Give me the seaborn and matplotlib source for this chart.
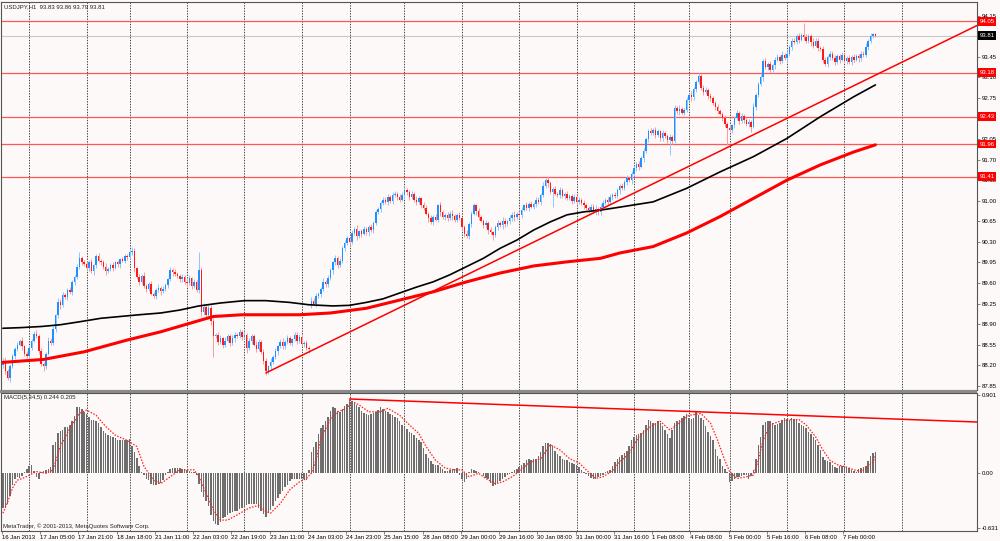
import numpy as np
import pandas as pd
import matplotlib
matplotlib.use("Agg")
import matplotlib.pyplot as plt
import matplotlib.transforms as mtransforms
from matplotlib.patches import Rectangle
import seaborn as sns

# ---- price data (H1 bars) ----
first_open = 88.20
closes = [
    88.28, 88.10, 87.98, 88.18, 88.35, 88.48, 88.55, 88.62, 88.52, 88.40,
    88.36, 88.50, 88.62, 88.74, 88.70, 88.45, 88.22, 88.18, 88.40, 88.62,
    88.58, 88.82, 89.05, 89.28, 89.22, 89.40, 89.36, 89.48, 89.44, 89.62,
    89.70, 89.88, 90.02, 89.96, 89.92, 89.86, 89.95, 89.80, 89.90, 90.06,
    89.98, 89.95, 89.88, 89.80, 89.84, 89.90, 89.86, 89.95, 89.92, 90.00,
    89.98, 90.06, 90.04, 90.12, 90.15, 89.85, 89.70, 89.62, 89.72, 89.55,
    89.50, 89.58, 89.42, 89.38, 89.48, 89.52, 89.46, 89.50, 89.56, 89.66,
    89.82, 89.78, 89.76, 89.72, 89.66, 89.70, 89.62, 89.60, 89.68, 89.55,
    89.62, 89.48, 89.82, 89.10, 89.20, 89.05, 89.18, 88.95, 88.70, 88.72,
    88.60, 88.66, 88.55, 88.62, 88.70, 88.58, 88.66, 88.72, 88.70, 88.76,
    88.68, 88.72, 88.50, 88.62, 88.70, 88.55, 88.48, 88.60, 88.42, 88.28,
    88.10, 88.18, 88.26, 88.34, 88.44, 88.52, 88.60, 88.52, 88.60, 88.66,
    88.58, 88.64, 88.72, 88.62, 88.68, 88.56, 88.58, 88.50, 88.47, 89.30,
    89.25, 89.38, 89.42, 89.50, 89.62, 89.58, 89.68, 89.82, 89.95, 90.02,
    89.90, 89.98, 90.20, 90.28, 90.36, 90.30, 90.45, 90.52, 90.40, 90.48,
    90.44, 90.52, 90.46, 90.55, 90.50, 90.62, 90.80, 90.86, 90.96, 91.02,
    90.98, 91.06, 91.00, 91.10, 91.12, 91.06, 91.02, 91.10, 91.18, 91.14,
    91.06, 91.12, 91.02, 90.98, 91.04, 90.92, 90.88, 90.78, 90.70, 90.64,
    90.72, 90.68, 90.92, 90.80, 90.72, 90.76, 90.70, 90.78, 90.74, 90.68,
    90.75, 90.70, 90.55, 90.44, 90.40, 90.60, 90.78, 90.92, 90.82, 90.72,
    90.66, 90.58, 90.62, 90.50, 90.46, 90.42, 90.55, 90.62, 90.58, 90.66,
    90.60, 90.65, 90.70, 90.76, 90.72, 90.78, 90.75, 90.85, 90.92, 90.88,
    90.94, 90.90, 90.95, 91.02, 90.98, 91.10, 91.25, 91.36, 91.30, 91.15,
    91.20, 91.12, 91.10, 91.18, 91.08, 91.12, 91.05, 91.08, 91.00, 91.06,
    90.98, 91.02, 90.96, 90.92, 90.88, 90.84, 90.90, 90.82, 90.86, 90.80,
    90.90, 90.96, 91.02, 90.98, 91.06, 91.10, 91.08, 91.18, 91.25, 91.22,
    91.32, 91.38, 91.35, 91.45, 91.55, 91.62, 91.58, 91.72, 91.85, 92.05,
    92.18, 92.15, 92.20, 92.12, 92.18, 92.06, 92.15, 92.10, 92.04, 92.08,
    92.02, 92.58, 92.52, 92.56, 92.50, 92.55, 92.72, 92.80, 92.76, 92.90,
    93.02, 93.12, 92.92, 92.85, 92.88, 92.78, 92.74, 92.66, 92.60, 92.52,
    92.48, 92.40, 92.30, 92.24, 92.20, 92.28, 92.40, 92.50, 92.36, 92.44,
    92.38, 92.30, 92.34, 92.26, 92.60, 92.80, 92.98, 93.10, 93.38, 93.28,
    93.32, 93.22, 93.30, 93.40, 93.45, 93.38, 93.48, 93.42, 93.50, 93.62,
    93.72, 93.70, 93.80, 93.74, 93.82, 93.78, 93.72, 93.80, 93.70, 93.64,
    93.72, 93.60, 93.58, 93.40, 93.32, 93.45, 93.50, 93.42, 93.36, 93.46,
    93.40, 93.48, 93.38, 93.42, 93.36, 93.44, 93.40, 93.46, 93.42, 93.50,
    93.48, 93.62, 93.72, 93.80, 93.83, 93.81,
]
gap_bars = [129]
gap_opens = [89.22]

# wick length beyond the body, in pips (0.01)
wick_hi = [
    4, 6, 3, 5, 4, 3, 5, 2, 6, 3, 4, 5, 3, 4, 6, 3, 5, 4, 3, 6,
    4, 5, 3, 6, 4, 5, 3, 4, 6, 3, 4, 5, 11, 4, 3, 5, 4, 6, 3, 4,
    5, 3, 4, 6, 3, 4, 5, 3, 4, 3, 5, 4, 3, 5, 6, 4, 3, 5, 4, 6,
    3, 4, 5, 3, 4, 6, 3, 5, 4, 3, 5, 4, 6, 3, 4, 5, 3, 4, 5, 3,
    4, 3, 31, 5, 6, 4, 5, 4, 6, 3, 4, 5, 3, 6, 4, 3, 5, 4, 3, 5,
    4, 6, 3, 5, 4, 3, 6, 4, 3, 5, 4, 3, 6, 4, 5, 3, 4, 6, 3, 5,
    4, 3, 5, 4, 6, 3, 4, 5, 3, 6, 4, 5, 3, 4, 6, 3, 5, 4, 3, 6,
    4, 5, 3, 6, 4, 3, 5, 4, 6, 3, 4, 5, 3, 4, 6, 3, 5, 4, 3, 5,
    4, 6, 3, 5, 4, 3, 6, 4, 5, 3, 4, 5, 3, 6, 4, 3, 5, 4, 3, 6,
    4, 5, 3, 6, 4, 3, 5, 4, 6, 3, 4, 5, 3, 4, 6, 3, 5, 4, 3, 5,
    4, 3, 5, 4, 6, 3, 4, 5, 3, 6, 4, 3, 5, 4, 6, 3, 4, 5, 3, 5,
    4, 6, 3, 5, 4, 3, 6, 2, 5, 3, 4, 5, 3, 6, 4, 3, 5, 4, 3, 6,
    4, 5, 3, 6, 4, 3, 5, 4, 6, 3, 4, 5, 3, 4, 6, 3, 5, 4, 3, 5,
    4, 6, 3, 5, 4, 3, 6, 4, 5, 3, 4, 5, 3, 6, 4, 3, 5, 4, 3, 6,
    4, 5, 3, 6, 4, 3, 5, 4, 6, 3, 4, 5, 3, 4, 6, 3, 5, 4, 3, 5,
    4, 3, 5, 4, 6, 3, 4, 5, 3, 6, 4, 3, 5, 4, 6, 3, 4, 5, 3, 5,
    4, 6, 3, 5, 4, 3, 6, 4, 5, 3, 4, 5, 3, 6, 4, 20, 5, 4, 3, 6,
    4, 5, 3, 6, 4, 3, 5, 4, 6, 3, 4, 5, 3, 4, 6, 3, 5, 4, 3, 5,
    4, 6, 3, 5, 3, 3,
]
wick_lo = [
    5, 4, 3, 6, 3, 5, 4, 3, 6, 4, 3, 5, 4, 3, 4, 5, 3, 8, 4, 3,
    4, 3, 5, 4, 6, 3, 4, 5, 3, 4, 6, 3, 4, 5, 3, 4, 5, 3, 6, 4,
    3, 5, 4, 6, 3, 4, 5, 3, 4, 6, 3, 4, 5, 3, 4, 6, 3, 5, 4, 3,
    5, 4, 3, 3, 5, 4, 6, 3, 4, 5, 3, 6, 4, 3, 5, 4, 3, 6, 4, 5,
    3, 4, 5, 6, 4, 5, 3, 6, 36, 4, 5, 3, 6, 4, 3, 5, 4, 6, 3, 4,
    5, 3, 9, 4, 6, 3, 5, 4, 3, 6, 6, 4, 5, 3, 4, 6, 3, 5, 4, 3,
    4, 5, 3, 6, 4, 3, 5, 4, 6, 4, 3, 5, 4, 6, 3, 4, 5, 3, 6, 4,
    5, 3, 4, 6, 3, 5, 4, 3, 6, 4, 5, 3, 4, 6, 3, 5, 4, 3, 6, 4,
    3, 5, 4, 6, 3, 4, 5, 3, 6, 4, 5, 3, 4, 6, 3, 5, 4, 3, 6, 4,
    5, 3, 4, 6, 3, 5, 4, 3, 6, 4, 5, 3, 4, 6, 3, 5, 4, 3, 6, 4,
    3, 5, 4, 6, 3, 9, 4, 5, 3, 6, 4, 3, 5, 4, 6, 3, 4, 5, 3, 4,
    5, 3, 4, 6, 3, 5, 4, 3, 6, 4, 25, 3, 4, 6, 3, 5, 4, 3, 6, 4,
    5, 3, 4, 6, 3, 5, 4, 3, 6, 4, 5, 3, 4, 6, 3, 5, 4, 3, 6, 4,
    3, 5, 4, 6, 3, 4, 5, 3, 6, 4, 5, 3, 4, 6, 3, 5, 4, 4, 6, 26,
    5, 3, 4, 6, 3, 5, 4, 3, 6, 4, 5, 3, 4, 6, 3, 5, 4, 3, 6, 4,
    3, 5, 4, 29, 3, 4, 5, 3, 6, 4, 5, 3, 4, 9, 3, 5, 4, 3, 6, 4,
    5, 3, 4, 6, 3, 5, 4, 3, 6, 4, 5, 3, 4, 6, 3, 5, 4, 3, 6, 4,
    3, 5, 4, 6, 3, 4, 5, 3, 6, 4, 5, 3, 4, 6, 3, 5, 4, 3, 6, 4,
    4, 3, 5, 3, 3, 2,
]

# moving averages (sampled along the curves)
ma_black_bars = [0, 7, 16, 24, 32, 41, 49, 57, 66, 74, 82, 91, 101, 110, 120, 128, 138,
                 145, 152, 159, 166, 173, 180, 187, 194, 201, 208, 215, 222, 229, 236,
                 243, 250, 258, 272, 286, 300, 314, 328, 342, 356, 365]
ma_black_vals = [88.83, 88.84, 88.86, 88.89, 88.94, 89.00, 89.03, 89.06, 89.09, 89.14,
                 89.21, 89.26, 89.30, 89.30, 89.27, 89.23, 89.21, 89.22, 89.27, 89.33,
                 89.43, 89.53, 89.62, 89.74, 89.88, 90.02, 90.19, 90.33, 90.50, 90.64,
                 90.76, 90.81, 90.84, 90.89, 90.98, 91.21, 91.49, 91.75, 92.06, 92.43,
                 92.77, 92.97]
ma_red_bars = [0, 17, 34, 52, 66, 82, 88, 100, 124, 137, 152, 166, 180, 194, 208, 222,
               236, 250, 258, 272, 286, 300, 314, 328, 342, 356, 365]
ma_red_vals = [88.25, 88.30, 88.43, 88.63, 88.77, 88.96, 89.03, 89.06, 89.06, 89.09,
               89.17, 89.31, 89.45, 89.62, 89.77, 89.89, 89.96, 90.02, 90.11, 90.22,
               90.45, 90.73, 91.04, 91.35, 91.61, 91.83, 91.95]

levels = [94.05, 93.18, 92.43, 91.96, 91.41]
bid = 93.81
trend_bars = [110, 407.5]
trend_prices = [88.07, 93.98]

# ---- MACD(5,34,5) ----
macd_hist = [
    -0.40, -0.40, -0.36, -0.26, -0.14, -0.06, -0.04, -0.05, -0.03, 0.02,
    0.05, 0.08, 0.10, 0.03, -0.04, -0.07, 0.02, 0.03, 0.04, 0.05,
    0.07, 0.33, 0.36, 0.46, 0.49, 0.50, 0.53, 0.54, 0.56, 0.60,
    0.66, 0.77, 0.76, 0.74, 0.71, 0.68, 0.65, 0.62, 0.61, 0.60,
    0.58, 0.54, 0.49, 0.46, 0.44, 0.43, 0.42, 0.41, 0.39, 0.38,
    0.38, 0.38, 0.39, 0.40, 0.32, 0.25, 0.18, 0.09, 0.02, -0.02,
    -0.06, -0.08, -0.12, -0.13, -0.13, -0.12, -0.11, -0.08, -0.02, 0.02,
    0.05, 0.06, 0.06, 0.06, 0.06, 0.05, 0.05, 0.04, 0.03, 0.02,
    0.01, -0.02, -0.12, -0.22, -0.27, -0.32, -0.38, -0.48, -0.55, -0.58,
    -0.60, -0.56, -0.52, -0.50, -0.48, -0.46, -0.45, -0.44, -0.43, -0.41,
    -0.40, -0.38, -0.37, -0.36, -0.35, -0.35, -0.36, -0.40, -0.44, -0.47,
    -0.50, -0.46, -0.42, -0.38, -0.32, -0.28, -0.24, -0.20, -0.16, -0.13,
    -0.09, -0.07, -0.06, -0.06, -0.06, -0.07, -0.07, -0.08, 0.04, 0.25,
    0.30, 0.36, 0.45, 0.52, 0.56, 0.60, 0.65, 0.72, 0.77, 0.75,
    0.72, 0.71, 0.74, 0.78, 0.80, 0.85, 0.84, 0.81, 0.79, 0.76,
    0.72, 0.70, 0.69, 0.67, 0.68, 0.70, 0.71, 0.73, 0.77, 0.74,
    0.72, 0.71, 0.69, 0.67, 0.65, 0.64, 0.60, 0.56, 0.54, 0.51,
    0.48, 0.46, 0.44, 0.41, 0.39, 0.36, 0.29, 0.22, 0.18, 0.14,
    0.11, 0.10, 0.10, 0.07, 0.05, 0.03, 0.03, 0.04, 0.05, 0.05,
    0.06, -0.02, -0.06, -0.10, -0.07, 0.02, 0.05, 0.04, 0.03, 0.02,
    0.00, -0.03, -0.05, -0.07, -0.11, -0.15, -0.13, -0.11, -0.09, -0.07,
    -0.04, -0.02, -0.01, 0.02, 0.04, 0.05, 0.07, 0.10, 0.12, 0.15,
    0.16, 0.15, 0.16, 0.16, 0.20, 0.25, 0.31, 0.35, 0.35, 0.34,
    0.31, 0.26, 0.22, 0.20, 0.16, 0.15, 0.15, 0.13, 0.12, 0.11,
    0.10, 0.07, 0.04, 0.02, -0.01, -0.03, -0.05, -0.07, -0.06, -0.04,
    -0.03, -0.02, 0.01, 0.03, 0.04, 0.08, 0.13, 0.16, 0.19, 0.21,
    0.24, 0.26, 0.31, 0.38, 0.42, 0.44, 0.45, 0.46, 0.50, 0.56,
    0.62, 0.60, 0.58, 0.58, 0.60, 0.58, 0.55, 0.50, 0.45, 0.41,
    0.50, 0.58, 0.60, 0.61, 0.64, 0.66, 0.69, 0.64, 0.63, 0.64,
    0.71, 0.67, 0.64, 0.62, 0.55, 0.48, 0.43, 0.38, 0.28, 0.20,
    0.17, 0.09, 0.05, 0.01, -0.10, -0.09, -0.07, -0.04, -0.04, -0.03,
    -0.02, -0.02, -0.06, -0.03, 0.04, 0.17, 0.33, 0.42, 0.56, 0.59,
    0.60, 0.60, 0.58, 0.56, 0.57, 0.58, 0.62, 0.64, 0.63, 0.62,
    0.64, 0.63, 0.62, 0.58, 0.56, 0.55, 0.52, 0.48, 0.45, 0.42,
    0.38, 0.33, 0.27, 0.19, 0.15, 0.14, 0.13, 0.10, 0.07, 0.06,
    0.08, 0.09, 0.08, 0.07, 0.06, 0.04, 0.03, 0.01, 0.05, 0.06,
    0.07, 0.09, 0.14, 0.20, 0.24, 0.244,
]
signal_bars = [0, 2, 4, 6, 9, 14, 18, 21, 24, 28, 32, 35, 39, 43, 47, 52, 56, 59, 63,
               66, 70, 74, 80, 82, 85, 88, 91, 94, 98, 103, 107, 110, 112, 116, 120,
               124, 127, 129, 131, 133, 137, 140, 144, 146, 149, 153, 158, 161, 166,
               170, 174, 177, 181, 185, 189, 192, 195, 199, 202, 206, 209, 213, 216,
               220, 225, 229, 233, 237, 241, 244, 248, 251, 255, 258, 262, 266, 271,
               275, 279, 283, 287, 292, 296, 299, 302, 304, 307, 311, 314, 316, 318,
               321, 325, 329, 333, 336, 340, 343, 346, 349, 353, 356, 359, 361, 364,
               365]
signal_vals = [-0.46, -0.33, -0.17, -0.08, -0.05, 0.02, 0.00, 0.04, 0.31, 0.52, 0.69,
               0.73, 0.67, 0.54, 0.44, 0.38, 0.31, 0.08, -0.08, -0.12, -0.04, 0.04,
               0.04, -0.04, -0.23, -0.42, -0.54, -0.54, -0.48, -0.40, -0.37, -0.44,
               -0.46, -0.35, -0.19, -0.10, -0.06, 0.00, 0.15, 0.40, 0.62, 0.71, 0.75,
               0.83, 0.79, 0.71, 0.71, 0.75, 0.67, 0.56, 0.46, 0.31, 0.15, 0.06, 0.04,
               0.04, -0.04, 0.00, -0.06, -0.12, -0.10, -0.04, 0.02, 0.12, 0.17, 0.33,
               0.27, 0.17, 0.12, 0.04, -0.06, -0.04, 0.03, 0.13, 0.23, 0.42, 0.54,
               0.60, 0.50, 0.58, 0.67, 0.69, 0.58, 0.38, 0.15, 0.02, -0.06, -0.04,
               -0.02, 0.15, 0.38, 0.56, 0.60, 0.62, 0.62, 0.56, 0.42, 0.27, 0.15,
               0.10, 0.07, 0.04, 0.02, 0.06, 0.13, 0.205]
macd_trend_bars = [145, 407.5]
macd_trend_vals = [0.858, 0.592]

# ---- time axis ----
date_labels = ["16 Jan 2013", "17 Jan 05:00", "17 Jan 21:00", "18 Jan 18:00",
               "21 Jan 11:00", "22 Jan 03:00", "22 Jan 19:00", "23 Jan 11:00",
               "24 Jan 03:00", "24 Jan 23:00", "25 Jan 15:00", "28 Jan 08:00",
               "29 Jan 00:00", "29 Jan 16:00", "30 Jan 08:00", "31 Jan 00:00",
               "31 Jan 16:00", "1 Feb 08:00", "4 Feb 08:00", "5 Feb 00:00",
               "5 Feb 16:00", "6 Feb 08:00", "7 Feb 00:00"]
day_breaks = [11, 35, 53, 77, 101, 125, 145, 168, 192, 216, 240, 264, 287, 304,
              328, 352, 376]

assert len(closes) == len(wick_hi) == len(wick_lo) == len(macd_hist)

# ---------------------------------------------------------------------------
sns.set_theme(style="white")
plt.rcParams["font.family"] = ["Liberation Sans", "DejaVu Sans"]

BG = "#fdf9f8"
FS = 4.3
W, H = 1000, 541


def px_rect(x0, y0, x1, y1):
    return [x0 / W, 1 - y1 / H, (x1 - x0) / W, (y1 - y0) / H]


fig = plt.figure(figsize=(10, 5.41), dpi=100, facecolor=BG)
ax = fig.add_axes(px_rect(1, 2, 977, 390))
mx = fig.add_axes(px_rect(1, 393, 977, 531), sharex=ax)

# candles
n = len(closes)
x = np.arange(n)
c = np.array(closes)
o = np.r_[first_open, c[:-1]]
for b, g in zip(gap_bars, gap_opens):
    o[b] = g
top = np.maximum(o, c)
bot = np.minimum(o, c)
hi = top + np.array(wick_hi) / 100
lo = bot - np.array(wick_lo) / 100
up = c >= o
body = np.maximum(top - bot, 0.012)

ax.vlines(x[up], lo[up], hi[up], color="#8ec6ff", lw=0.7, zorder=3)
ax.vlines(x[~up], lo[~up], hi[~up], color="#ff9a9a", lw=0.7, zorder=3)
ax.bar(x[up], body[up], bottom=bot[up], width=0.62, color="#1e90ff", lw=0, zorder=4)
ax.bar(x[~up], body[~up], bottom=bot[~up], width=0.62, color="#ff1a1a", lw=0, zorder=4)

# moving averages and trendline
black_df = pd.DataFrame({"bar": ma_black_bars, "price": ma_black_vals})
red_df = pd.DataFrame({"bar": ma_red_bars, "price": ma_red_vals})
trend_df = pd.DataFrame({"bar": trend_bars, "price": trend_prices})
sns.lineplot(data=black_df, x="bar", y="price", ax=ax, color="black", linewidth=1.2, zorder=5)
sns.lineplot(data=red_df, x="bar", y="price", ax=ax, color="#ff0000", linewidth=2.2, zorder=5)
sns.lineplot(data=trend_df, x="bar", y="price", ax=ax, color="#ff0000", linewidth=1.1, zorder=6)

for v in levels:
    ax.axhline(v, color="#ff3b3b", lw=0.9, alpha=0.85, zorder=2)
ax.axhline(bid, color="#c8c8c8", lw=0.8, zorder=2)

for b in day_breaks:
    for a in (ax, mx):
        a.axvline(b, color="#222222", lw=0.6, ls=(0, (1.6, 1.6)), zorder=1)

# MACD pane
mx.bar(x, macd_hist, width=0.62, color="#6e6e6e", lw=0, zorder=3)
sig_df = pd.DataFrame({"bar": signal_bars, "val": signal_vals})
sns.lineplot(data=sig_df, x="bar", y="val", ax=mx, color="#ff2020", linewidth=0.9, zorder=4)
mx.lines[-1].set_linestyle((0, (1.2, 1.2)))
mtrend_df = pd.DataFrame({"bar": macd_trend_bars, "val": macd_trend_vals})
sns.lineplot(data=mtrend_df, x="bar", y="val", ax=mx, color="#ff0000", linewidth=1.1, zorder=5)

# limits
xlo, xhi = -0.8, 407.5
ax.set_xlim(xlo, xhi)
ax.set_ylim(87.78, 94.38)
mx.set_ylim(-0.666, 0.927)

for a in (ax, mx):
    a.set_facecolor(BG)
    a.set_xlabel("")
    a.set_ylabel("")
    a.yaxis.tick_right()
    for s in a.spines.values():
        s.set_color("#555555")
        s.set_linewidth(0.8)
    a.tick_params(axis="y", labelsize=FS, length=2, width=0.5, pad=1.5,
                  colors="#555555", labelcolor="black")

# scale labels fully hidden behind a price box are left blank
price_ticks = [87.85 + 0.35 * k for k in range(19)]
covered = {"93.80", "92.40"}
ax.set_yticks(price_ticks)
ax.set_yticklabels(["" if f"{t:.2f}" in covered else f"{t:.2f}" for t in price_ticks])
mx.set_yticks([0.901, 0.0, -0.631])
mx.set_yticklabels(["0.901", "0.00", "-0.631"])

date_ticks = [16 * k - 0.4 for k in range(len(date_labels))]
mx.set_xticks(date_ticks)
mx.set_xticklabels(date_labels, ha="left")
mx.tick_params(axis="x", labelsize=FS, length=2, width=0.5, pad=0.8,
               colors="#555555", labelcolor="black", bottom=True)
ax.tick_params(axis="x", bottom=False, labelbottom=False)
mx.set_xlim(xlo, xhi)

# price boxes on the right scale
blend = mtransforms.blended_transform_factory(ax.transAxes, ax.transData)
for v in levels:
    ax.text(1.0025, v, f"{v:.2f}", transform=blend, ha="left", va="center",
            fontsize=FS, color="white", zorder=20, clip_on=False,
            bbox=dict(boxstyle="square,pad=0.28", fc="#ff0000", ec="none"))
ax.text(1.0025, bid, f"{bid:.2f}", transform=blend, ha="left", va="center",
        fontsize=FS, color="white", zorder=20, clip_on=False,
        bbox=dict(boxstyle="square,pad=0.28", fc="black", ec="none"))

# pane separator
fig.patches.append(Rectangle((0, 1 - 393 / H), 977 / W, 3.2 / H,
                             transform=fig.transFigure, fc="#8a8a8a", ec="none"))

fig.text(4 / W, 1 - 7 / H, "USDJPY,H1  93.83 93.86 93.79 93.81",
         fontsize=FS, va="center", ha="left", color="#222222")
fig.text(4 / W, 1 - 398 / H, "MACD(5,34,5) 0.244 0.205",
         fontsize=FS, va="center", ha="left", color="#222222")
fig.text(3 / W, 1 - 526 / H, "MetaTrader, \u00a9 2001-2013, MetaQuotes Software Corp.",
         fontsize=FS, va="center", ha="left", color="#222222")

fig.savefig("out.png", dpi=100, facecolor=BG)
